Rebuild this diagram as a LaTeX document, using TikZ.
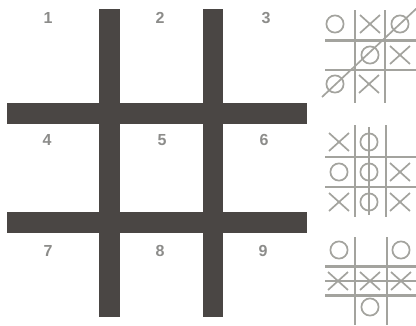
\documentclass[tikz,border=0pt]{standalone}
\usepackage{fontspec}
\setmainfont{Liberation Sans}
\usetikzlibrary{positioning}
\definecolor{barbrown}{RGB}{74,70,68}
\definecolor{numgray}{RGB}{140,140,138}
\definecolor{markgray}{RGB}{163,163,158}
\tikzset{
  bar/.style={fill=barbrown, draw=none},
  cellnum/.style={font=\fontsize{16}{16}\selectfont\bfseries, text=numgray, inner sep=0pt},
  gridline/.style={draw=markgray, line width=2.2pt},
  markline/.style={draw=markgray, line width=1.7pt},
  omark/.pic={\draw[markline] (0,0) circle[radius=8.6pt];},
  xmark/.pic={\draw[markline] (-10,-9) -- (10,9) (-10,9) -- (10,-9);},
}
\begin{document}
\begin{tikzpicture}[x=1pt, y=-1pt]
\useasboundingbox (0,0) rectangle (416,325);

% ================= big board =================
\fill[bar] (99,9) rectangle (120,317);
\fill[bar] (203,9) rectangle (223,317);
\fill[bar] (7,103) rectangle (307,124);
\fill[bar] (7,212) rectangle (307,233);

\foreach \n/\x/\y in {1/48/18, 2/160/18, 3/266/18,
                      4/47/140, 5/162/140, 6/264/140,
                      7/48/251, 8/160/251, 9/263/251}
  \node[cellnum] (num\n) at (\x,\y) {\n};

% ================= small board: diagonal =================
\draw[gridline] (355,10) -- (355,103) (385,10) -- (385,103);
\draw[gridline] (325,40.5) -- (416,40.5) (325,70) -- (416,70);
\pic at (335,24) {omark};
\pic at (370,24) {xmark};
\pic at (400,24) {omark};
\pic at (370,55) {omark};
\pic at (400,55) {xmark};
\pic at (335,84) {omark};
\pic at (369,84) {xmark};
\draw[markline] (322,97) -- (417,8);

% ================= small board: column =================
\draw[gridline] (355,125) -- (355,217) (386,125) -- (386,217);
\draw[gridline] (325,157) -- (416,157) (325,187) -- (416,187);
\pic at (339,142) {xmark};
\pic at (369,142) {omark};
\pic at (339,172) {omark};
\pic at (369,172) {omark};
\pic at (400,172) {xmark};
\pic at (339,202) {xmark};
\pic at (369,202) {omark};
\pic at (400,202) {xmark};
\draw[markline] (369,127) -- (369,215);

% ================= small board: row =================
\draw[gridline] (355,237) -- (355,325) (387,237) -- (387,325);
\draw[gridline] (325,266.5) -- (416,266.5) (325,295.5) -- (416,295.5);
\pic at (339,250) {omark};
\pic at (401,250) {omark};
\pic at (338,281) {xmark};
\pic at (370,281) {xmark};
\pic at (401,281) {xmark};
\pic at (370,307) {omark};
\draw[markline] (325,281) -- (416,281);

\end{tikzpicture}
\end{document}
